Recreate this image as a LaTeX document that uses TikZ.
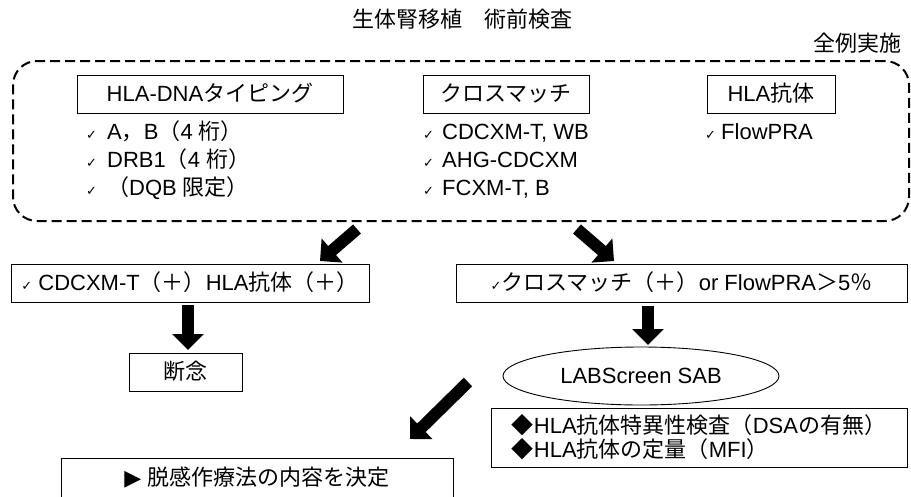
\documentclass[tikz,border=0pt]{standalone}
\usepackage{fontspec}
\setmainfont{Liberation Sans}
\newfontfamily\jp{Noto Sans CJK JP}
\newfontfamily\dv{DejaVu Sans}
\usetikzlibrary{arrows.meta,shapes.geometric}
\newcommand\J[1]{{\jp #1}}
\newcommand\chk{{\dv\fontsize{13}{13}\selectfont ✓}}
\begin{document}
\begin{tikzpicture}[x=1pt,y=-1pt,
  every node/.style={font=\fontsize{22}{25}\selectfont, inner sep=0pt},
  box/.style={draw, line width=0.9pt, text height=16pt, text depth=1pt, minimum height=38pt},
  txt/.style={anchor=base west},
  dbox/.style={draw, line width=2pt, dash pattern=on 10pt off 5pt, rounded corners=24pt},
  blk/.style={line width=12pt, -{Triangle[length=16pt,width=31pt]}},
]
\clip (0,0) rectangle (911,496);
\useasboundingbox (0,0) rectangle (911,496);

\node (title) at (462,19) {\J{生体腎移植　術前検査}};
\node[anchor=east] (allcase) at (902,43) {\J{全例実施}};

\node[dbox, minimum width=896pt, minimum height=160pt] (dash) at (461,141) {};

\node[box, minimum width=266pt] (typ) at (210,94) {HLA-DNA\J{タイピング}};
\node[box, minimum width=166pt] (xm) at (506,94) {\J{クロスマッチ}};
\node[box, minimum width=128pt] (ab) at (771,94) {HLA\J{抗体}};

\node[txt] (l1) at (86,139.5) {\makebox[21pt][l]{\chk}A\J{，}B\J{（}4 \J{桁）}};
\node[txt] (l2) at (86,167.5) {\makebox[21pt][l]{\chk}DRB1\J{（}4 \J{桁）}};
\node[txt] (l3) at (86,195.5) {\makebox[21pt][l]{\chk}\J{（}DQB \J{限定）}};

\node[txt] (m1) at (423,139.5) {\makebox[19pt][l]{\chk}CDCXM-T, WB};
\node[txt] (m2) at (423,167.5) {\makebox[19pt][l]{\chk}AHG-CDCXM};
\node[txt] (m3) at (423,195.5) {\makebox[19pt][l]{\chk}FCXM-T, B};

\node[txt] (r1) at (705,139.5) {\makebox[16pt][l]{\chk}FlowPRA};

\node[box, minimum width=358pt] (cd) at (190,283) {\chk\ CDCXM-T\J{（＋）}HLA\J{抗体（＋）}};
\node[box, minimum width=451pt] (fl) at (681.5,283) {\chk\J{クロスマッチ（＋）}or FlowPRA\J{＞}5\J{％}};

\node[box, minimum width=113pt] (dn) at (185.5,372) {\J{断念}};

\node[draw, ellipse, line width=0.9pt, minimum width=276pt, minimum height=58pt] (lab) at (641,376) {LABScreen SAB};

\node[draw, line width=0.9pt, minimum width=416pt, minimum height=59pt, align=left,
      font=\fontsize{22}{24}\selectfont] (spec) at (699,437.5)
  {\J{◆}HLA\J{抗体特異性検査（}DSA\J{の有無）}\\\J{◆}HLA\J{抗体の定量（}MFI\J{）}};

\node[box, minimum width=392pt, minimum height=40pt] (dec) at (257,478) {{\dv ▶}\ \J{脱感作療法の内容を決定}};

\coordinate (a1s) at (357,229); \coordinate (a1e) at (320,261);
\coordinate (a2s) at (577,229); \coordinate (a2e) at (614,261);
\coordinate (a3s) at (188,305); \coordinate (a3e) at (188,350);
\coordinate (a4s) at (648,306); \coordinate (a4e) at (648,345);
\coordinate (a5s) at (468,382); \coordinate (a5e) at (410,439);
\draw[blk] (a1s) -- (a1e);
\draw[blk] (a2s) -- (a2e);
\draw[blk] (a3s) -- (a3e);
\draw[blk] (a4s) -- (a4e);
\draw[blk] (a5s) -- (a5e);
\end{tikzpicture}
\end{document}
